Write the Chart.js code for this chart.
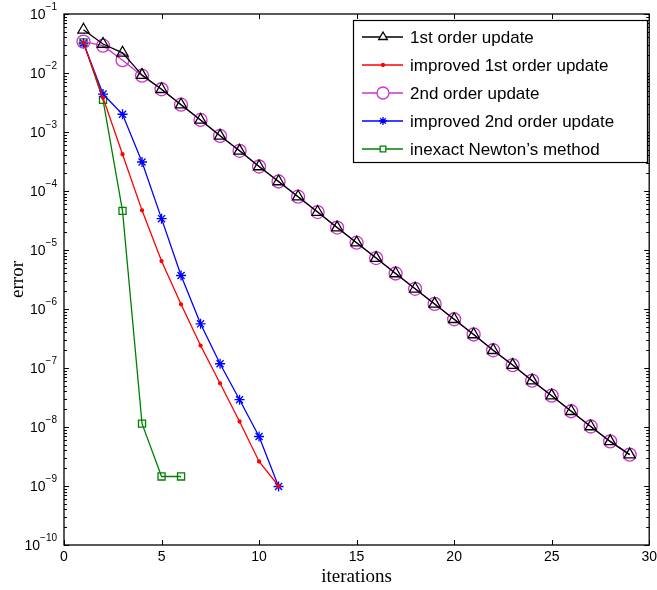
<!DOCTYPE html>
<html>
<head>
<meta charset="utf-8">
<script src="https://cdn.jsdelivr.net/npm/chart.js@4.4.1/dist/chart.umd.min.js"></script>
<style>
  html, body { margin: 0; padding: 0; background: #fff; }
  #wrap { width: 657px; height: 590px; }
</style>
</head>
<body>
<div id="wrap"><canvas id="errChart" width="657" height="590"></canvas></div>
<script>
// values (error per iteration, iteration starts at 1)
const firstOrder = [0.054, 0.031, 0.022, 0.0092, 5.3e-3, 2.9e-3, 1.6e-3, 8.6e-4, 4.8e-4, 2.6e-4,
    1.45e-4, 8.0e-5, 4.4e-5, 2.4e-5, 1.33e-5, 7.3e-6, 4.0e-6, 2.2e-6, 1.22e-6, 6.7e-7,
    3.7e-7, 2.0e-7, 1.12e-7, 6.1e-8, 3.4e-8, 1.85e-8, 1.02e-8, 5.7e-9, 3.4e-9];
const improvedFirst = [0.033, 3.8e-3, 4.2e-4, 4.7e-5, 6.5e-6, 1.2e-6, 2.4e-7, 5.5e-8, 1.24e-8, 2.6e-9, 1.0e-9];
const secondOrder = [0.034, 0.029, 0.0165, 0.0090, 5.3e-3, 2.9e-3, 1.6e-3, 8.6e-4, 4.8e-4, 2.6e-4,
    1.45e-4, 8.0e-5, 4.4e-5, 2.4e-5, 1.33e-5, 7.3e-6, 4.0e-6, 2.2e-6, 1.22e-6, 6.7e-7,
    3.7e-7, 2.0e-7, 1.12e-7, 6.1e-8, 3.4e-8, 1.85e-8, 1.02e-8, 5.7e-9, 3.4e-9];
const improvedSecond = [0.032, 4.4e-3, 2.0e-3, 3.1e-4, 3.4e-5, 3.7e-6, 5.6e-7, 1.18e-7, 2.9e-8, 6.9e-9, 9.8e-10];
const inexactNewton = [0.033, 3.5e-3, 4.6e-5, 1.14e-8, 1.45e-9, 1.45e-9];

const seriesNames = ['1st order update', 'improved 1st order update', '2nd order update',
    'improved 2nd order update', 'inexact Newton\u2019s method'];
const xTicks = [0, 5, 10, 15, 20, 25, 30];
const yExponents = [-1, -2, -3, -4, -5, -6, -7, -8, -9, -10];

const toPoints = arr => arr.map((v, i) => ({ x: i + 1, y: v }));

const SANS = '"Liberation Sans", Arial, sans-serif';
const SERIF = '"Liberation Serif", "DejaVu Serif", serif';

// axes box, inward ticks, tick labels, titles
const axesPlugin = {
    id: 'axesPlugin',
    afterDatasetsDraw(chart) {
        const { ctx, chartArea: a, scales } = chart;
        const xs = scales.x, ys = scales.y;
        ctx.save();
        ctx.strokeStyle = '#000';
        ctx.lineWidth = 1.3;
        ctx.strokeRect(a.left, a.top, a.right - a.left, a.bottom - a.top);

        ctx.lineWidth = 1;
        ctx.beginPath();
        xTicks.forEach(t => {
            const px = Math.round(xs.getPixelForValue(t)) + 0.5;
            ctx.moveTo(px, a.bottom); ctx.lineTo(px, a.bottom - 5);
            ctx.moveTo(px, a.top); ctx.lineTo(px, a.top + 5);
        });
        yExponents.forEach(e => {
            for (let m = 1; m <= 9; m++) {
                const v = m * Math.pow(10, e);
                if (v > 0.1 + 1e-12) continue;
                const py = Math.round(ys.getPixelForValue(v)) + 0.5;
                const len = m === 1 ? 5 : 3;
                ctx.moveTo(a.left, py); ctx.lineTo(a.left + len, py);
                ctx.moveTo(a.right, py); ctx.lineTo(a.right - len, py);
            }
        });
        ctx.stroke();

        // tick labels
        ctx.fillStyle = '#000';
        ctx.font = '14px ' + SANS;
        ctx.textAlign = 'center';
        ctx.textBaseline = 'middle';
        xTicks.forEach(t => {
            ctx.fillText(String(t), xs.getPixelForValue(t), a.bottom + 12);
        });
        yExponents.forEach(e => {
            const py = ys.getPixelForValue(Math.pow(10, e));
            const exp = '\u2212' + Math.abs(e);
            ctx.font = '10px ' + SANS;
            const ew = ctx.measureText(exp).width;
            ctx.textAlign = 'right';
            ctx.fillText(exp, a.left - 7, py - 7);
            ctx.font = '14px ' + SANS;
            ctx.fillText('10', a.left - 7 - ew, py + 1);
        });

        // axis titles
        ctx.font = '19px ' + SERIF;
        ctx.textAlign = 'center';
        ctx.fillText('iterations', (a.left + a.right) / 2, 577);
        ctx.save();
        ctx.translate(18, (a.top + a.bottom) / 2);
        ctx.rotate(-Math.PI / 2);
        ctx.fillText('error', 0, 0);
        ctx.restore();
        ctx.restore();
    }
};

// MATLAB style legend box with line + marker samples
const legendPlugin = {
    id: 'legendPlugin',
    afterDraw(chart) {
        const { ctx } = chart;
        const box = { x: 353.5, y: 20.5, w: 294, h: 142 };
        ctx.save();
        ctx.fillStyle = '#fff';
        ctx.fillRect(box.x, box.y, box.w, box.h);
        ctx.strokeStyle = '#000';
        ctx.lineWidth = 1.2;
        ctx.strokeRect(box.x, box.y, box.w, box.h);
        chart.data.datasets.forEach((ds, i) => {
            const y = 37 + i * 28;
            ctx.strokeStyle = ds.borderColor;
            ctx.lineWidth = 1.3;
            ctx.beginPath();
            ctx.moveTo(362, y); ctx.lineTo(403, y);
            ctx.stroke();
            ctx.fillStyle = ds.legendFill;
            Chart.helpers.drawPoint(ctx, {
                pointStyle: ds.pointStyle,
                radius: ds.legendRadius,
                borderWidth: 1.3
            }, 383, y);
            ctx.fillStyle = '#000';
            ctx.font = '17px ' + SANS;
            ctx.textAlign = 'left';
            ctx.textBaseline = 'middle';
            ctx.fillText(ds.label, 410, y + 1);
        });
        ctx.restore();
    }
};

new Chart(document.getElementById('errChart'), {
    type: 'line',
    data: {
        datasets: [
            {
                label: seriesNames[0], data: toPoints(firstOrder),
                borderColor: '#000', backgroundColor: 'rgba(0,0,0,0)',
                pointStyle: 'triangle', pointRadius: 6.5, legendRadius: 5, legendFill: '#fff',
                pointBorderColor: '#000', pointBackgroundColor: 'rgba(0,0,0,0)'
            },
            {
                label: seriesNames[1], data: toPoints(improvedFirst),
                borderColor: '#ff0000', backgroundColor: '#ff0000',
                pointStyle: 'circle', pointRadius: 1.5, legendRadius: 1.5, legendFill: '#ff0000',
                pointBorderColor: '#ff0000', pointBackgroundColor: '#ff0000'
            },
            {
                label: seriesNames[2], data: toPoints(secondOrder),
                borderColor: '#cc33cc', backgroundColor: 'rgba(0,0,0,0)',
                pointStyle: 'circle', pointRadius: 6.5, legendRadius: 6, legendFill: '#fff',
                pointBorderColor: '#cc33cc', pointBackgroundColor: 'rgba(0,0,0,0)'
            },
            {
                label: seriesNames[3], data: toPoints(improvedSecond),
                borderColor: '#0000ff', backgroundColor: 'rgba(0,0,0,0)',
                pointStyle: 'star', pointRadius: 5, legendRadius: 4, legendFill: '#fff',
                pointBorderColor: '#0000ff', pointBackgroundColor: 'rgba(0,0,0,0)'
            },
            {
                label: seriesNames[4], data: toPoints(inexactNewton),
                borderColor: '#008000', backgroundColor: 'rgba(0,0,0,0)',
                pointStyle: 'rect', pointRadius: 5, legendRadius: 4, legendFill: '#fff',
                pointBorderColor: '#008000', pointBackgroundColor: 'rgba(0,0,0,0)'
            }
        ]
    },
    options: {
        responsive: false,
        animation: false,
        events: [],
        elements: {
            line: { borderWidth: 1.3, tension: 0 },
            point: { borderWidth: 1.3 }
        },
        layout: { padding: { left: 64, right: 5, top: 14, bottom: 45 } },
        plugins: { legend: { display: false }, tooltip: { enabled: false } },
        scales: {
            x: {
                type: 'linear', min: 0, max: 30,
                grid: { display: false, drawTicks: false },
                border: { display: false },
                ticks: { display: false },
                afterFit: s => { s.height = 0; }
            },
            y: {
                type: 'logarithmic', min: 1e-10, max: 1e-1,
                grid: { display: false, drawTicks: false },
                border: { display: false },
                ticks: { display: false },
                afterFit: s => { s.width = 0; }
            }
        }
    },
    plugins: [axesPlugin, legendPlugin]
});
</script>
</body>
</html>
